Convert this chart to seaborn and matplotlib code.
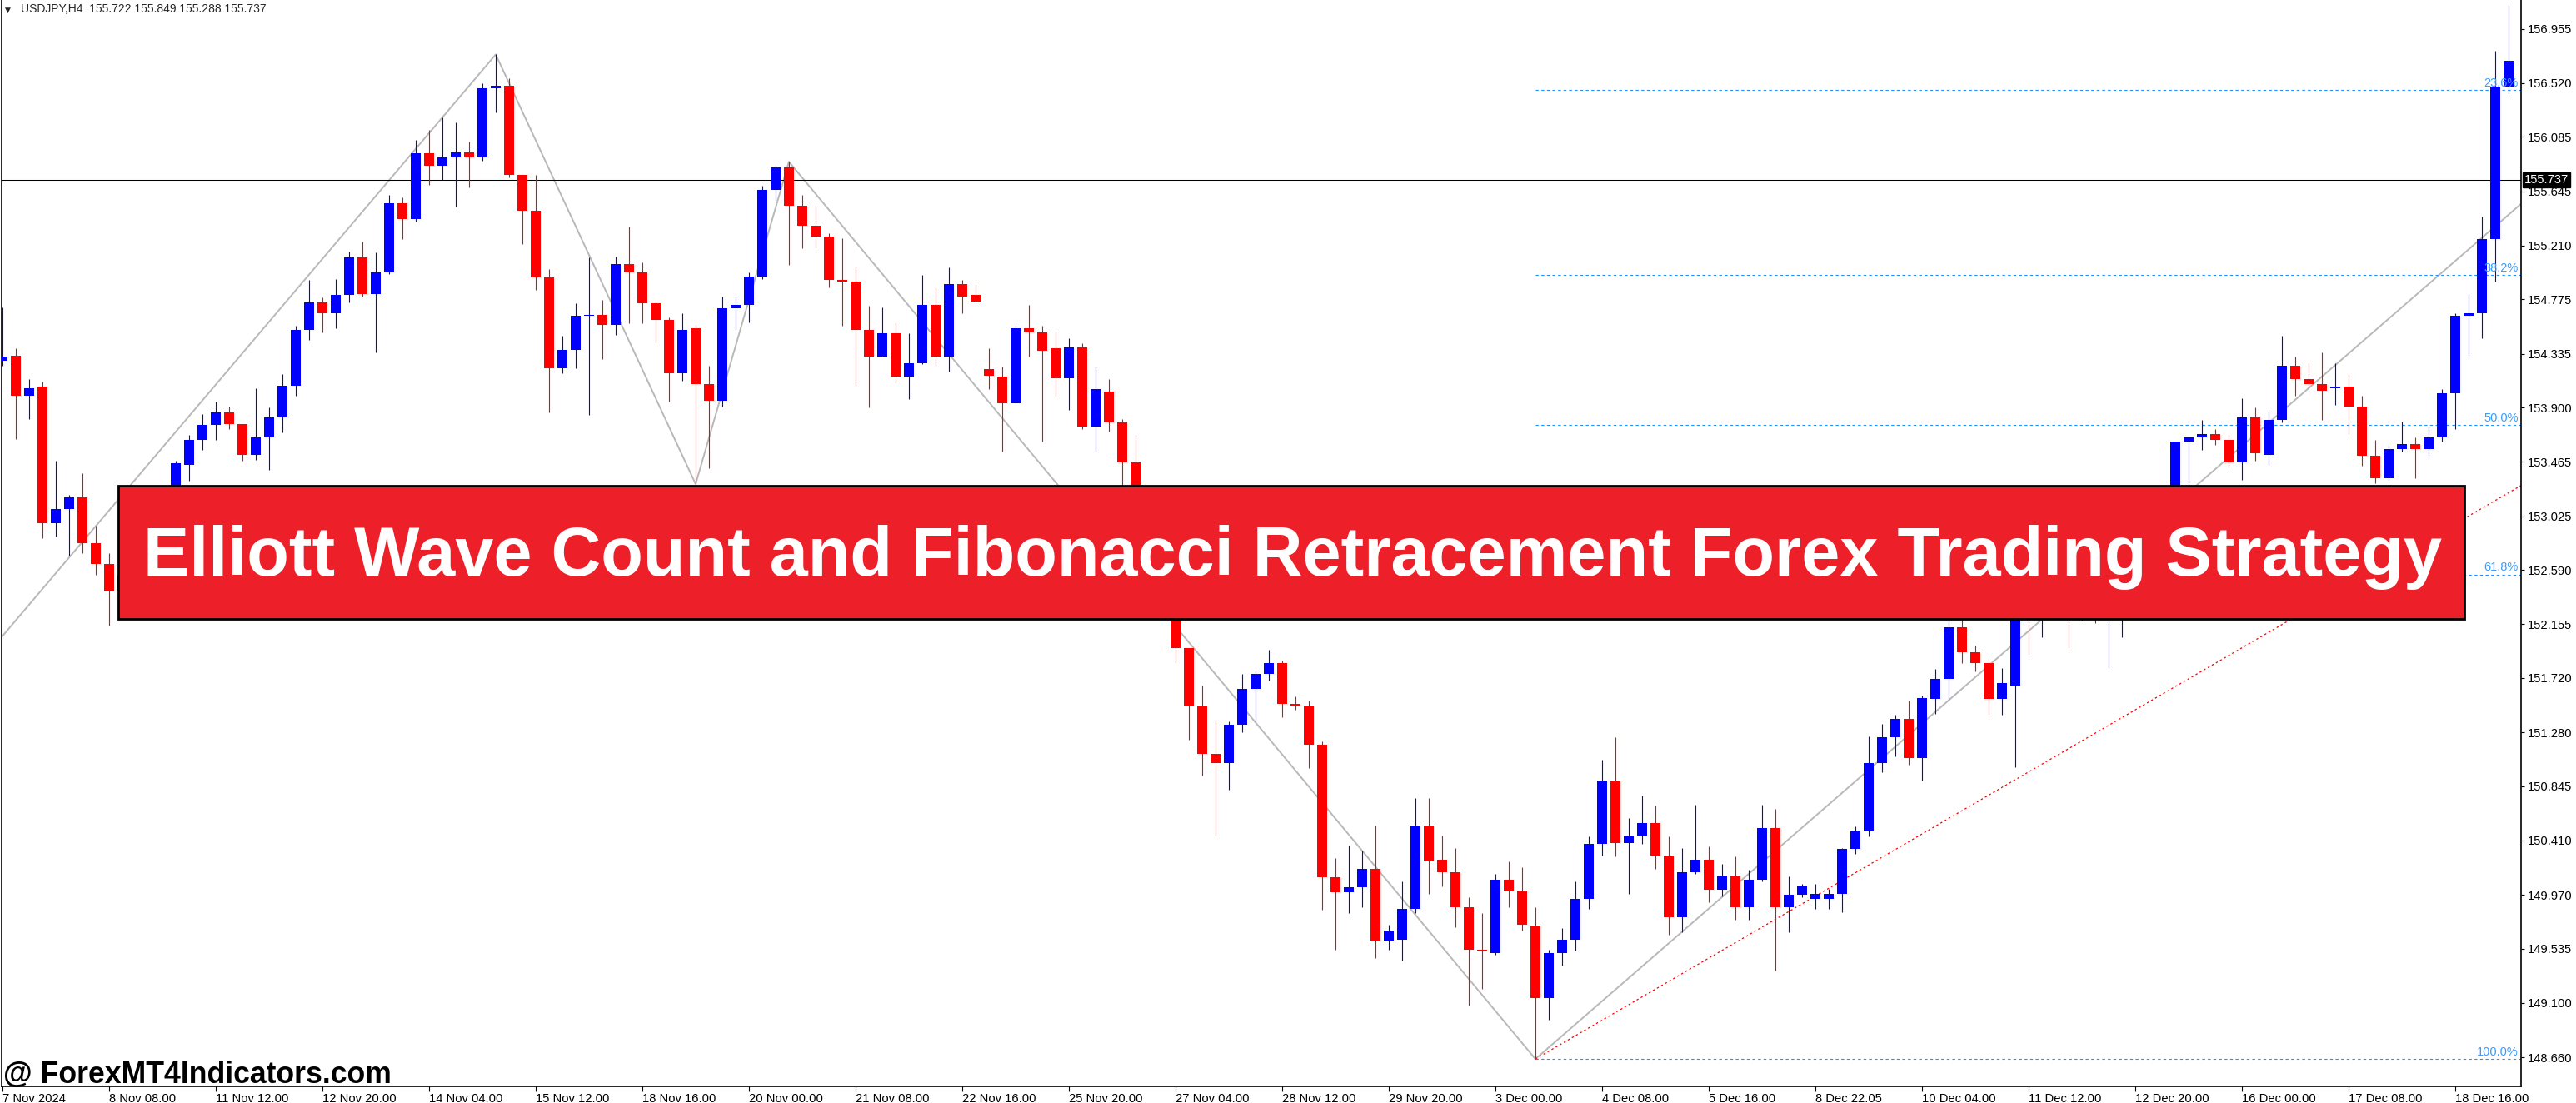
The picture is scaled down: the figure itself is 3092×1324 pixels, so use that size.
import matplotlib
matplotlib.use("Agg")
import matplotlib.pyplot as plt
from matplotlib.patches import Rectangle
import numpy as np
import seaborn as sns

# USDJPY H4 candles, 7 Nov 2024 00:00 -> 19 Dec 08:00 (189 bars)
opens = [
    154.28, 154.32, 154.00, 154.07, 152.97, 153.08, 153.18, 152.81,
    152.64, 152.42, 152.55, 152.78, 152.90, 153.05, 153.44, 153.64,
    153.76, 153.86, 153.77, 153.52, 153.66, 153.82, 154.08, 154.53,
    154.75, 154.66, 154.81, 155.11, 154.82, 154.99, 155.55, 155.42,
    155.95, 155.85, 155.92, 155.96, 155.92, 156.48, 156.50, 155.78,
    155.49, 154.95, 154.22, 154.37, 154.64, 154.65, 154.57, 155.06,
    154.99, 154.74, 154.61, 154.18, 154.54, 154.09, 153.96, 154.70,
    154.73, 154.96, 155.66, 155.84, 155.53, 155.37, 155.28, 154.93,
    154.92, 154.53, 154.31, 154.50, 154.15, 154.26, 154.73, 154.31,
    154.90, 154.81, 154.21, 154.15, 153.94, 154.54, 154.51, 154.38,
    154.14, 154.39, 153.75, 154.03, 153.78, 153.46, 153.10, 152.75,
    152.40, 151.96, 151.49, 151.11, 151.03, 151.34, 151.63, 151.75,
    151.84, 151.51, 151.49, 151.18, 150.11, 149.99, 150.03, 150.18,
    149.60, 149.61, 149.86, 150.53, 150.25, 150.15, 149.87, 149.53,
    149.50, 150.09, 150.00, 149.72, 149.14, 149.50, 149.61, 149.94,
    150.38, 150.89, 150.39, 150.44, 150.55, 150.29, 149.79, 150.15,
    150.25, 150.01, 150.12, 149.87, 150.09, 150.51, 149.87, 149.97,
    149.94, 149.94, 149.98, 150.34, 150.48, 151.03, 151.24, 151.39,
    151.07, 151.55, 151.71, 152.13, 151.93, 151.84, 151.55, 151.66,
    152.30, 152.20, 152.35, 152.30, 152.25, 152.22, 152.20, 152.30,
    152.50, 152.70, 152.90, 153.10, 153.625, 153.66, 153.69, 153.64,
    153.46, 153.82, 153.52, 153.80, 154.24, 154.13, 154.09, 154.06,
    154.07, 153.91, 153.51, 153.33, 153.57, 153.61, 153.57, 153.66,
    154.02, 154.64, 154.66, 155.26, 156.49,
]
highs = [
    154.71, 154.38, 154.13, 154.11, 153.47, 153.20, 153.37, 152.95,
    152.73, 152.62, 152.85, 153.00, 153.15, 153.47, 153.68, 153.85,
    153.95, 153.91, 153.77, 154.06, 153.90, 154.17, 154.56, 154.93,
    154.79, 154.94, 155.16, 155.24, 155.15, 155.62, 155.60, 156.06,
    156.14, 156.24, 156.20, 156.05, 156.52, 156.75, 156.56, 155.78,
    155.78, 155.02, 154.48, 154.74, 155.11, 154.77, 155.12, 155.36,
    155.07, 154.76, 154.63, 154.66, 154.57, 154.24, 154.80, 154.80,
    154.99, 155.69, 155.86, 155.885, 155.62, 155.53, 155.31, 155.27,
    155.04, 154.72, 154.71, 154.59, 154.50, 154.97, 154.87, 155.03,
    154.93, 154.90, 154.38, 154.23, 154.56, 154.73, 154.56, 154.52,
    154.46, 154.42, 154.23, 154.13, 153.81, 153.68, 153.20, 152.85,
    152.50, 151.96, 151.66, 151.38, 151.37, 151.75, 151.78, 151.95,
    151.86, 151.57, 151.54, 151.21, 150.27, 150.37, 150.33, 150.53,
    149.73, 150.08, 150.75, 150.75, 150.45, 150.35, 149.95, 149.82,
    150.14, 150.24, 150.19, 149.87, 149.53, 149.70, 150.08, 150.44,
    151.06, 151.24, 150.59, 150.77, 150.69, 150.44, 150.35, 150.70,
    150.36, 150.22, 150.28, 150.17, 150.70, 150.66, 150.12, 150.06,
    150.06, 150.02, 150.35, 150.52, 151.25, 151.35, 151.42, 151.54,
    151.58, 151.79, 152.18, 152.20, 151.98, 151.87, 151.80, 152.35,
    152.55, 152.45, 152.60, 152.50, 152.45, 152.40, 152.50, 152.60,
    152.80, 153.00, 153.20, 153.63, 153.66, 153.80, 153.73, 153.68,
    153.98, 153.90, 153.86, 154.48, 154.31, 154.26, 154.35, 154.26,
    154.17, 154.00, 153.64, 153.60, 153.79, 153.66, 153.75, 154.05,
    154.66, 154.82, 155.44, 156.78, 157.15,
]
lows = [
    154.24, 153.65, 153.81, 152.85, 152.86, 152.71, 152.73, 152.55,
    152.14, 152.28, 152.45, 152.66, 152.80, 152.95, 153.31, 153.56,
    153.64, 153.73, 153.47, 153.48, 153.40, 153.70, 154.00, 154.45,
    154.51, 154.54, 154.75, 154.80, 154.35, 154.98, 155.26, 155.40,
    155.70, 155.74, 155.52, 155.68, 155.89, 156.28, 155.76, 155.22,
    154.85, 153.86, 154.18, 154.22, 153.84, 154.29, 154.49, 154.58,
    154.58, 154.43, 153.95, 154.12, 153.285, 153.41, 153.91, 154.53,
    154.59, 154.94, 155.58, 155.05, 155.19, 155.19, 154.87, 154.56,
    154.08, 153.90, 154.31, 154.10, 153.97, 154.25, 154.24, 154.19,
    154.66, 154.75, 154.05, 153.55, 153.94, 154.31, 153.63, 154.00,
    153.88, 153.73, 153.55, 153.71, 153.27, 153.05, 152.70, 152.35,
    151.84, 151.22, 150.93, 150.45, 150.82, 151.28, 151.37, 151.70,
    151.40, 151.46, 150.99, 149.85, 149.53, 149.82, 149.87, 149.46,
    149.53, 149.44, 149.82, 149.98, 150.04, 149.71, 149.08, 149.21,
    149.49, 149.87, 149.68, 148.646, 148.96, 149.40, 149.52, 149.86,
    150.29, 150.28, 149.98, 150.38, 150.18, 149.65, 149.67, 150.14,
    149.91, 149.96, 149.77, 149.77, 150.08, 149.36, 149.67, 149.95,
    149.86, 149.86, 149.83, 150.30, 150.44, 150.96, 151.09, 151.02,
    150.89, 151.43, 151.54, 151.84, 151.77, 151.42, 151.42, 151.00,
    151.91, 152.05, 152.20, 151.96, 152.18, 152.16, 151.80, 152.05,
    152.40, 152.60, 152.80, 153.00, 153.20, 153.56, 153.60, 153.42,
    153.32, 153.47, 153.44, 153.78, 154.00, 154.06, 153.80, 153.92,
    153.69, 153.43, 153.29, 153.32, 153.55, 153.33, 153.51, 153.63,
    153.73, 154.32, 154.46, 154.92, 156.44,
]
closes = [
    154.31, 154.00, 154.06, 152.97, 153.08, 153.18, 152.81, 152.64,
    152.42, 152.55, 152.78, 152.90, 153.05, 153.455, 153.64, 153.76,
    153.86, 153.77, 153.52, 153.66, 153.82, 154.08, 154.53, 154.75,
    154.66, 154.81, 155.11, 154.82, 154.99, 155.55, 155.42, 155.95,
    155.85, 155.92, 155.96, 155.92, 156.48, 156.50, 155.78, 155.49,
    154.95, 154.22, 154.37, 154.64, 154.65, 154.57, 155.06, 154.99,
    154.74, 154.61, 154.18, 154.53, 154.09, 153.96, 154.70, 154.73,
    154.96, 155.66, 155.84, 155.53, 155.37, 155.28, 154.93, 154.92,
    154.53, 154.31, 154.50, 154.15, 154.26, 154.73, 154.31, 154.90,
    154.80, 154.755, 154.16, 153.94, 154.54, 154.51, 154.36, 154.14,
    154.39, 153.75, 154.05, 153.78, 153.46, 153.10, 152.75, 152.40,
    151.96, 151.49, 151.11, 151.03, 151.34, 151.63, 151.75, 151.84,
    151.51, 151.50, 151.18, 150.11, 149.99, 150.03, 150.18, 149.60,
    149.68, 149.86, 150.53, 150.24, 150.15, 149.87, 149.53, 149.515,
    150.09, 150.00, 149.73, 149.14, 149.50, 149.61, 149.94, 150.38,
    150.89, 150.39, 150.44, 150.55, 150.29, 149.79, 150.15, 150.25,
    150.01, 150.12, 149.87, 150.09, 150.51, 149.87, 149.97, 150.04,
    149.98, 149.98, 150.34, 150.48, 151.03, 151.24, 151.39, 151.07,
    151.56, 151.71, 152.13, 151.93, 151.84, 151.55, 151.68, 152.30,
    152.20, 152.35, 152.30, 152.25, 152.22, 152.20, 152.30, 152.50,
    152.70, 152.90, 153.10, 153.625, 153.66, 153.69, 153.64, 153.46,
    153.82, 153.535, 153.80, 154.24, 154.13, 154.09, 154.04, 154.07,
    153.91, 153.51, 153.33, 153.57, 153.61, 153.57, 153.66, 154.02,
    154.64, 154.66, 155.26, 156.49, 156.70,
]

time_labels = [
    "7 Nov 2024", "8 Nov 08:00", "11 Nov 12:00", "12 Nov 20:00", "14 Nov 04:00",
    "15 Nov 12:00", "18 Nov 16:00", "20 Nov 00:00", "21 Nov 08:00", "22 Nov 16:00",
    "25 Nov 20:00", "27 Nov 04:00", "28 Nov 12:00", "29 Nov 20:00", "3 Dec 00:00",
    "4 Dec 08:00", "5 Dec 16:00", "8 Dec 22:05", "10 Dec 04:00", "11 Dec 12:00",
    "12 Dec 20:00", "16 Dec 00:00", "17 Dec 08:00", "18 Dec 16:00",
]
price_ticks = [156.955, 156.520, 156.085, 155.645, 155.210, 154.775, 154.335,
               153.900, 153.465, 153.025, 152.590, 152.155, 151.720, 151.280,
               150.845, 150.410, 149.970, 149.535, 149.100, 148.660]

# zigzag pivots (bar index, price)
zz_bars = [-0.06, 37, 52, 59, 115, 188.94]
zz_prices = [152.05, 156.75, 153.285, 155.885, 148.646, 155.545]
# red dotted trend line
trend_bars = [115, 188.94]
trend_prices = [148.646, 153.273]
# fibonacci retracement levels
fib_names = ["23.6%", "38.2%", "50.0%", "61.8%", "100.0%"]
fib_levels = [156.463, 154.969, 153.762, 152.555, 148.646]
bid_price = 155.737

title = "Elliott Wave Count and Fibonacci Retracement Forex Trading Strategy"
header = "USDJPY,H4  155.722 155.849 155.288 155.737"
watermark = "@ ForexMT4Indicators.com"

sns.set_style("white")
plt.rcParams["font.family"] = ["Liberation Sans", "DejaVu Sans"]

W, H = 3092, 1324
fig = plt.figure(figsize=(W / 100, H / 100), dpi=100)
ax = fig.add_axes([2 / W, 20 / H, 3024 / W, 1304 / H])

n = len(opens)
x = np.arange(n)
o = np.array(opens)
c = np.array(closes)
colors = np.where(c >= o, "#0000FF", "#FF0000")
body_lo = np.minimum(o, c)
body_h = np.maximum(np.abs(c - o), 0.008)

ax.vlines(x, lows, highs, colors=colors, lw=0.8, zorder=2)
ax.bar(x, body_h, bottom=body_lo, width=0.7, color=colors, linewidth=0, zorder=3)

# zigzag + trend line
sns.lineplot(x=zz_bars, y=zz_prices, sort=False, estimator=None, ax=ax,
             color="#B8B8B8", lw=1.4, zorder=1)
sns.lineplot(x=trend_bars, y=trend_prices, sort=False, estimator=None, ax=ax,
             color="#FF0000", lw=0.9, linestyle=(0, (2, 2.5)), zorder=1)

# fibo levels
for name, lvl in zip(fib_names, fib_levels):
    ax.plot([115, 188.94], [lvl, lvl], color="#1E90FF", lw=0.8,
            linestyle=(0, (3, 3)), zorder=1)
    ax.text(188.75, lvl + 0.01, name, ha="right", va="bottom",
            color="#3A9BFF", fontsize=10.5, zorder=4)

ax.axhline(bid_price, color="black", lw=0.75, zorder=1)

ax.set_xlim(-0.0625, 188.94)
ax.set_ylim(148.425, 157.19)

ax.yaxis.tick_right()
ax.set_yticks(price_ticks)
ax.set_yticklabels([f"{p:.3f}" for p in price_ticks], fontsize=10.6)
ax.tick_params(axis="y", direction="out", length=3, width=0.8, pad=2.5,
               colors="black", right=True, left=False)
ax.set_xticks(np.arange(0, 185, 8))
ax.set_xticklabels(time_labels, fontsize=10.6, ha="left")
ax.tick_params(axis="x", direction="out", length=4.5, width=0.8, pad=1,
               colors="black", bottom=True)

for side in ["left", "right", "bottom"]:
    ax.spines[side].set_visible(True)
    ax.spines[side].set_color("black")
    ax.spines[side].set_linewidth(1.2)
ax.spines["top"].set_visible(False)

# current price box
fig.text(3030 / W, (H - 216) / H, "155.737", color="white", fontsize=10.6,
         va="center", ha="left",
         bbox=dict(boxstyle="square,pad=0.15", fc="black", ec="black"))

# header
fig.text(6 / W, (H - 15) / H, "\u25bc", fontsize=6.5, family="DejaVu Sans",
         va="baseline", ha="left")
fig.text(25 / W, (H - 15) / H, header, fontsize=10, va="baseline", ha="left")

# banner
fig.patches.append(Rectangle((142 / W, (H - 743) / H), 2816 / W, 160 / H,
                             transform=fig.transFigure, facecolor="#ED1F28",
                             edgecolor="black", lw=2, zorder=5))
t = fig.text(1552 / W, (H - 691) / H, title, color="white", weight="bold",
             fontsize=50, ha="center", va="baseline", zorder=6)
renderer = fig.canvas.get_renderer()
w = t.get_window_extent(renderer).width
t.set_fontsize(50 * 2760 / w)

# watermark
fig.text(4 / W, 24 / H, watermark, color="black", weight="bold",
         fontsize=25.7, ha="left", va="baseline", zorder=6)

fig.savefig("out.png", dpi=100, facecolor="white")
